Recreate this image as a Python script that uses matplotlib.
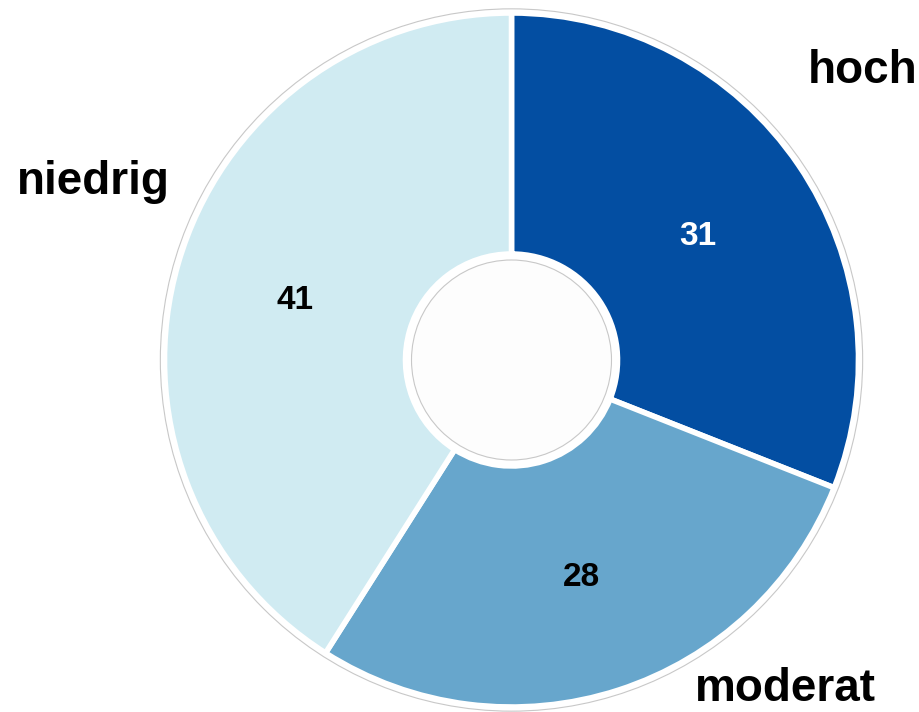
import numpy as np
import matplotlib
matplotlib.use('Agg')
import matplotlib.pyplot as plt
from matplotlib.patches import Circle

# Daten
kategorien = ['hoch', 'moderat', 'niedrig']
werte = [31, 28, 41]
farben = ['#034ea2', '#67a6cc', '#d0ebf2']
wert_farben = ['white', 'black', 'black']

plt.rcParams['font.family'] = ['Liberation Sans', 'DejaVu Sans']

fig = plt.figure(figsize=(9.19, 7.12), dpi=100)
ax = fig.add_axes([0, 0, 1, 1])

# Pixel-Geometrie der Vorlage (Radius 347 px, Mitte bei 511/360)
R = 347.0
cx, cy = 511.5, 360.0

keile, _ = ax.pie(werte, colors=farben, startangle=90, counterclock=False,
                  radius=1.0, wedgeprops=dict(width=1.0 - 106 / R,
                                             edgecolor='white', linewidth=4))

# feine graue Ringe
ax.add_patch(Circle((0, 0), 1.012, fill=False, edgecolor='#c8c8c8', lw=0.8))
ax.add_patch(Circle((0, 0), 100 / R, fill=True, edgecolor='#c8c8c8', lw=0.8,
                    facecolor='#fdfdfd'))

# Werte in den Segmenten
for keil, w, fc in zip(keile, werte, wert_farben):
    mitte = np.deg2rad((keil.theta1 + keil.theta2) / 2)
    r = 0.65
    ax.text(r * np.cos(mitte), r * np.sin(mitte) - 0.01, str(w), ha='center',
            va='center', fontsize=24, fontweight='bold', color=fc)

# Kategorien aussen
aussen = {'hoch': (39.5, 1.31), 'moderat': (-50.2, 1.235), 'niedrig': (157.0, 1.31)}
for k in kategorien:
    winkel, r = aussen[k]
    a = np.deg2rad(winkel)
    ax.text(r * np.cos(a), r * np.sin(a), k, ha='center', va='center',
            fontsize=33, fontweight='bold', color='black')

ax.set_aspect('equal')
ax.set_xlim(-cx / R, (919 - cx) / R)
ax.set_ylim(-(712 - cy) / R, cy / R)
ax.axis('off')

fig.savefig('out.png', dpi=100, facecolor='white')
